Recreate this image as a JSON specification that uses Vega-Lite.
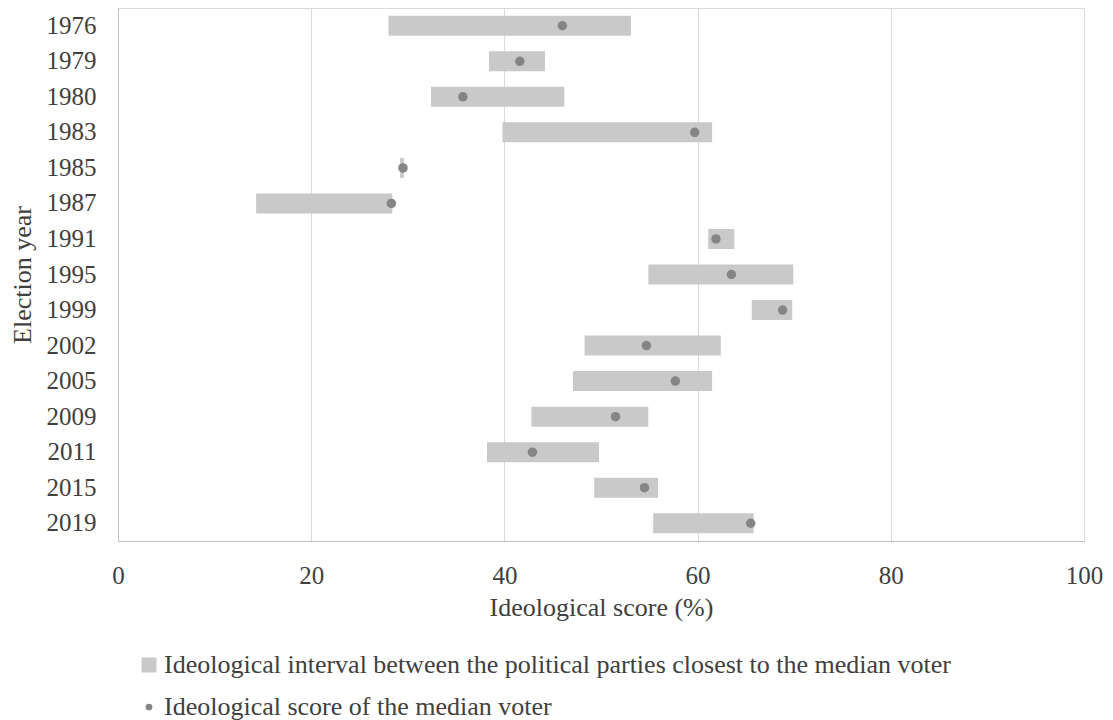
{
  "$schema": "https://vega.github.io/schema/vega-lite/v6.json",
  "autosize": "none",
  "width": 966,
  "height": 533,
  "padding": {"left": 118, "top": 8, "right": 29, "bottom": 179},
  "background": "white",
  "config": {
    "font": "Liberation Serif",
    "view": {"stroke": "#d9d9d9", "strokeWidth": 1},
    "axis": {
      "labelFont": "Liberation Serif",
      "titleFont": "Liberation Serif",
      "labelFontSize": 25,
      "titleFontSize": 26,
      "labelColor": "#404040",
      "titleColor": "#404040",
      "titleFontWeight": "normal",
      "ticks": false,
      "domainColor": "#bfbfbf",
      "gridColor": "#d9d9d9"
    },
    "legend": {
      "labelFont": "Liberation Serif",
      "labelFontSize": 26,
      "labelColor": "#404040",
      "labelLimit": 1000
    }
  },
  "data": {
    "values": [
      {"year": "1976", "lo": 28.0, "hi": 53.1, "median": 46.0},
      {"year": "1979", "lo": 38.4, "hi": 44.2, "median": 41.6},
      {"year": "1980", "lo": 32.4, "hi": 46.2, "median": 35.7},
      {"year": "1983", "lo": 39.8, "hi": 61.5, "median": 59.7},
      {"year": "1985", "lo": 29.2, "hi": 29.6, "median": 29.5},
      {"year": "1987", "lo": 14.3, "hi": 28.4, "median": 28.3},
      {"year": "1991", "lo": 61.1, "hi": 63.8, "median": 61.9},
      {"year": "1995", "lo": 54.9, "hi": 69.9, "median": 63.5},
      {"year": "1999", "lo": 65.6, "hi": 69.8, "median": 68.8},
      {"year": "2002", "lo": 48.3, "hi": 62.4, "median": 54.7},
      {"year": "2005", "lo": 47.1, "hi": 61.5, "median": 57.7},
      {"year": "2009", "lo": 42.8, "hi": 54.9, "median": 51.5},
      {"year": "2011", "lo": 38.2, "hi": 49.8, "median": 42.9},
      {"year": "2015", "lo": 49.3, "hi": 55.9, "median": 54.5},
      {"year": "2019", "lo": 55.4, "hi": 65.8, "median": 65.5}
    ]
  },
  "encoding": {
    "y": {
      "field": "year",
      "type": "nominal",
      "sort": null,
      "title": "Election year",
      "scale": {"paddingInner": 0, "paddingOuter": 0},
      "axis": {"labelPadding": 22, "titlePadding": 11, "grid": false, "domain": true}
    }
  },
  "layer": [
    {
      "mark": {"type": "bar", "size": 20},
      "encoding": {
        "x": {
          "field": "lo",
          "type": "quantitative",
          "title": "Ideological score (%)",
          "scale": {"domain": [0, 100], "nice": false},
          "axis": {"values": [0, 20, 40, 60, 80, 100], "labelPadding": 22, "titlePadding": 6, "labelFlush": false, "grid": true, "domain": true}
        },
        "x2": {"field": "hi"},
        "color": {
          "datum": "Ideological interval between the political parties closest to the median voter",
          "type": "nominal",
          "scale": {
            "domain": ["Ideological interval between the political parties closest to the median voter", "Ideological score of the median voter"],
            "range": ["#c9c9c9", "#858585"]
          },
          "legend": {
            "title": null,
            "orient": "none",
            "legendX": 18,
            "legendY": 644,
            "direction": "vertical",
            "rowPadding": 16,
            "labelOffset": 2,
            "symbolStrokeWidth": 0,
            "encode": {
              "symbols": {
                "update": {
                  "size": {"signal": "datum.value === 'Ideological score of the median voter' ? 45 : 225"}
                }
              }
            }
          }
        }
      }
    },
    {
      "mark": {"type": "point", "filled": true, "opacity": 1, "size": 90},
      "encoding": {
        "x": {"field": "median", "type": "quantitative"},
        "color": {"datum": "Ideological score of the median voter", "type": "nominal"},
        "shape": {
          "datum": "Ideological score of the median voter",
          "type": "nominal",
          "scale": {
            "domain": ["Ideological interval between the political parties closest to the median voter", "Ideological score of the median voter"],
            "range": ["square", "circle"]
          }
        }
      }
    }
  ]
}
